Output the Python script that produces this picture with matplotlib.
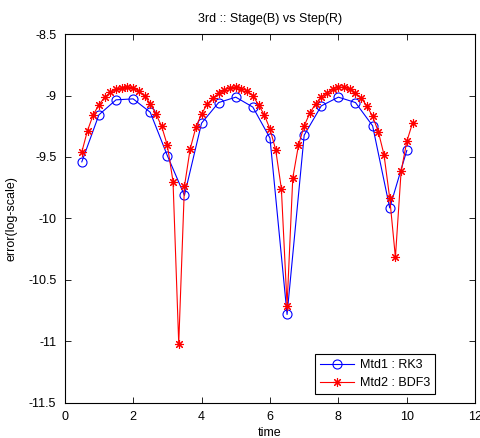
import matplotlib
matplotlib.use("Agg")
import matplotlib.pyplot as plt
import numpy as np

plt.rcParams["font.family"] = ["Liberation Sans", "DejaVu Sans"]
plt.rcParams["axes.unicode_minus"] = False

# Mtd1 : RK3, step 0.5
t_rk3 = [0.5, 1.0, 1.5, 2.0, 2.5, 3.0, 3.5, 4.0, 4.5, 5.0,
         5.5, 6.0, 6.5, 7.0, 7.5, 8.0, 8.5, 9.0, 9.5, 10.0]
err_rk3 = [-9.54, -9.157, -9.035, -9.027, -9.136, -9.489, -9.813, -9.225, -9.057, -9.013,
           -9.094, -9.346, -10.783, -9.323, -9.084, -9.013, -9.057, -9.246, -9.915, -9.447]

# Mtd2 : BDF3, step 1/6
t_bdf3 = [0.5 + k / 6 for k in range(59)]
err_bdf3 = [-9.46, -9.285, -9.157, -9.075, -9.015, -8.975, -8.95, -8.935, -8.928, -8.935,
            -8.965, -9.005, -9.065, -9.15, -9.25, -9.405, -9.70, -11.02, -9.74,
            -9.436, -9.26, -9.149, -9.07, -9.021, -8.98, -8.954, -8.937, -8.932,
            -8.943, -8.962, -9.0, -9.076, -9.157, -9.272, -9.441, -9.758, -10.71,
            -9.672, -9.405, -9.246, -9.143, -9.067, -9.013, -8.976, -8.948, -8.932,
            -8.932, -8.948, -8.98, -9.021, -9.084, -9.17, -9.293, -9.482, -9.834,
            -10.317, -9.618, -9.374, -9.224]

yticks = [-8.5, -9, -9.5, -10, -10.5, -11, -11.5]
ytick_labels = ["-8.5", "-9", "-9.5", "-10", "-10.5", "-11", "-11.5"]
xticks = [0, 2, 4, 6, 8, 10, 12]

fig = plt.figure(figsize=(4.81, 4.38), dpi=100)
ax = fig.add_axes([0.1345, 0.081, 0.8535, 0.841])

ax.plot(t_rk3, err_rk3, color="blue", marker="o", markersize=6.5, markerfacecolor="none",
        markeredgewidth=0.8, linewidth=0.8, label="Mtd1 : RK3")
ax.plot(t_bdf3, err_bdf3, color="red", marker=(8, 2, 0), markersize=6.5,
        markeredgewidth=0.8, linewidth=0.8, label="Mtd2 : BDF3")

ax.set_xlim(0, 12)
ax.set_ylim(-11.5, -8.5)
ax.set_xticks(xticks)
ax.set_yticks(yticks)
ax.set_yticklabels(ytick_labels)
ax.tick_params(direction="in", top=True, right=True, labelsize=9, length=4, width=0.6, pad=6)
for s in ax.spines.values():
    s.set_linewidth(0.8)

ax.set_title("3rd :: Stage(B) vs Step(R)", fontsize=9, pad=9)
ax.set_xlabel("time", fontsize=9, labelpad=3)
ax.set_ylabel("error(log-scale)", fontsize=9, labelpad=8)

leg = ax.legend(loc="lower right", fontsize=9, fancybox=False, framealpha=1,
                edgecolor="black", borderaxespad=0, handlelength=2.7,
                handletextpad=0.5, bbox_to_anchor=(0.9024, 0.0223))
leg.get_frame().set_linewidth(0.8)

fig.savefig("out.png", dpi=100)
